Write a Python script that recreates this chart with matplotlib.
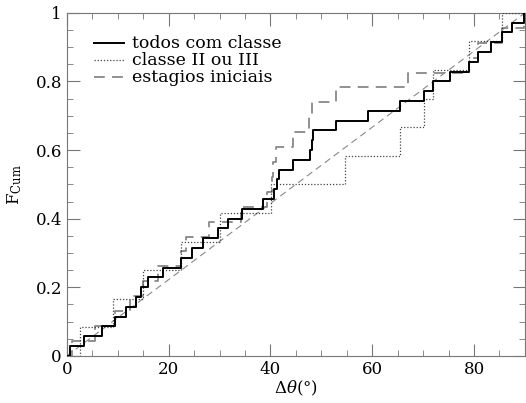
import numpy as np
import matplotlib
matplotlib.use("Agg")
import matplotlib.pyplot as plt
from matplotlib.ticker import MultipleLocator

# Jump positions (degrees) of each cumulative distribution
todos_x = [0.7, 3.4, 7.0, 9.5, 11.7, 13.6, 14.6, 15.9, 18.9, 22.4, 24.5, 26.7,
           29.8, 31.7, 34.5, 38.6, 40.8, 41.3, 41.6, 44.4, 47.7, 48.2, 48.4,
           52.9, 59.2, 65.4, 70.1, 71.9, 75.3, 79.0, 80.8, 83.4, 85.5, 87.4, 89.8]
classe_x = [2.5, 9.0, 14.9, 22.5, 30.1, 40.2, 54.6, 65.4, 70.1, 71.9, 79.1, 85.4]
estag_x = [1.0, 5.5, 9.5, 12.5, 15.0, 18.0, 22.4, 23.5, 28.0, 34.3, 39.3, 40.3,
           40.6, 41.0, 44.4, 47.6, 48.2, 52.9, 67.1, 79.0, 80.8, 85.5, 89.8]

labels = ["todos com classe", "classe II ou III", "estagios iniciais"]

plt.rcParams['font.family'] = ['DejaVu Serif']
plt.rcParams['mathtext.fontset'] = 'dejavuserif'

fig = plt.figure(figsize=(5.26, 4.03), dpi=100)
ax = fig.add_axes([0.127, 0.117, 0.871, 0.851])

def cum(xs):
    n = len(xs)
    x = np.concatenate([[0.0], xs, [90.0]])
    y = np.concatenate([[0.0], np.arange(1, n + 1) / n, [1.0]])
    return x, y

ax.plot([0, 90], [0, 1], color='#888888', lw=0.8, ls=(0, (6, 4)), zorder=1)

x, y = cum(estag_x)
ax.step(x, y, where='post', color='#888888', lw=1.3, ls=(0, (6, 4)), label=labels[2], zorder=2)
x, y = cum(classe_x)
ax.step(x, y, where='post', color='#444444', lw=0.9, ls=(0, (1, 1.5)), label=labels[1], zorder=3)
x, y = cum(todos_x)
ax.step(x, y, where='post', color='black', lw=1.4, label=labels[0], zorder=4)

ax.set_xlim(0, 90)
ax.set_ylim(0, 1)
ax.xaxis.set_major_locator(MultipleLocator(20))
ax.xaxis.set_minor_locator(MultipleLocator(5))
ax.yaxis.set_major_locator(MultipleLocator(0.2))
ax.yaxis.set_minor_locator(MultipleLocator(0.05))
ax.tick_params(which='both', direction='in', top=True, right=True, color='#777777', labelsize=12)
ax.tick_params(which='major', length=9)
ax.tick_params(which='minor', length=4.5)
ax.set_xticks([0, 20, 40, 60, 80])
ax.set_xticklabels(['0', '20', '40', '60', '80'])
ax.set_yticks([0, 0.2, 0.4, 0.6, 0.8, 1.0])
ax.set_yticklabels(['0', '0.2', '0.4', '0.6', '0.8', '1'])
for s in ax.spines.values():
    s.set_color('#777777')

ax.set_xlabel(r'$\Delta\theta(\degree)$', fontsize=12, labelpad=1)
ax.set_ylabel(r'$\mathrm{F_{Cum}}$', fontsize=12, labelpad=8)

handles, labs = ax.get_legend_handles_labels()
order = [2, 1, 0]
leg = ax.legend([handles[i] for i in order], [labs[i] for i in order],
                loc='upper left', bbox_to_anchor=(0.045, 0.955), frameon=False,
                fontsize=12.5, handlelength=1.7, handletextpad=0.45, labelspacing=0.0,
                borderaxespad=0, handleheight=0.5)

fig.savefig('out.png', dpi=100)
